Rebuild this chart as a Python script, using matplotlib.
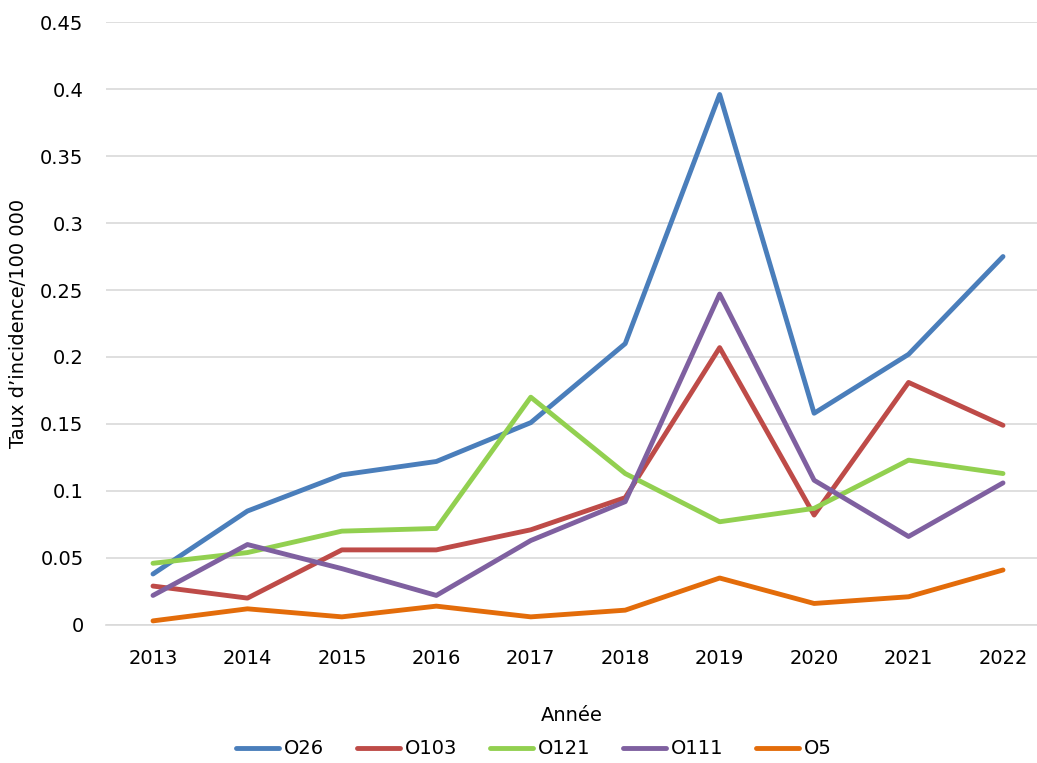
import matplotlib.pyplot as plt

# Incidence per 100 000, by serogroup
years = ["2013", "2014", "2015", "2016", "2017", "2018", "2019", "2020", "2021", "2022"]
o26 = [0.038, 0.085, 0.112, 0.122, 0.151, 0.210, 0.396, 0.158, 0.202, 0.275]
o103 = [0.029, 0.020, 0.056, 0.056, 0.071, 0.095, 0.207, 0.082, 0.181, 0.149]
o121 = [0.046, 0.054, 0.070, 0.072, 0.170, 0.113, 0.077, 0.087, 0.123, 0.113]
o111 = [0.022, 0.060, 0.042, 0.022, 0.063, 0.092, 0.247, 0.108, 0.066, 0.106]
o5 = [0.003, 0.012, 0.006, 0.014, 0.006, 0.011, 0.035, 0.016, 0.021, 0.041]

series = [
    ("O26", o26, "#4a7ebb"),
    ("O103", o103, "#be4b48"),
    ("O121", o121, "#92d050"),
    ("O111", o111, "#7f60a0"),
    ("O5", o5, "#e36c0a"),
]

fig = plt.figure(figsize=(10.37, 7.63), dpi=100)
ax = fig.add_axes([0.102, 0.181, 0.898, 0.790])

x = range(len(years))
for name, vals, color in series:
    ax.plot(x, vals, color=color, linewidth=3.5, label=name, solid_capstyle="round")

ax.set_ylim(0, 0.45)
ax.set_yticks([0, 0.05, 0.1, 0.15, 0.2, 0.25, 0.3, 0.35, 0.4, 0.45])
ax.set_yticklabels(["0", "0.05", "0.1", "0.15", "0.2", "0.25", "0.3", "0.35", "0.4", "0.45"])
ax.set_xlim(-0.5, 9.36)
ax.set_xticks(list(x))
ax.set_xticklabels(years)

ax.grid(axis="y", color="#d9d9d9", linewidth=1.2)
ax.set_axisbelow(True)
for side in ["top", "right", "left"]:
    ax.spines[side].set_visible(False)
ax.spines["bottom"].set_color("#d9d9d9")
ax.spines["bottom"].set_linewidth(1.2)
ax.tick_params(axis="y", length=0, pad=16, labelsize=14, colors="#000000")
ax.tick_params(axis="x", length=0, pad=17, labelsize=14)

ax.set_xlabel("Année", fontsize=14, labelpad=28)
ax.set_ylabel("Taux d\u2019incidence/100 000", fontsize=14, labelpad=12)
ax.yaxis.set_label_coords(-0.083, 0.5)

fig.legend(loc="lower center", bbox_to_anchor=(0.515, -0.017), ncol=5, frameon=False,
           fontsize=14, handlelength=2.2, columnspacing=1.7, handletextpad=0.25)

fig.savefig("out.png", dpi=100)
